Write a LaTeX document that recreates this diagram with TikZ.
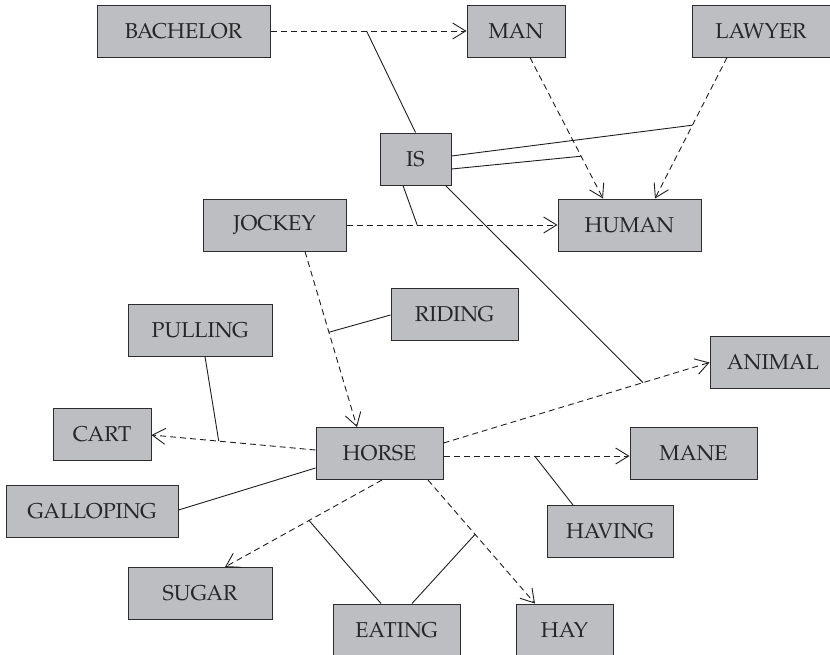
\documentclass[tikz,border=0pt]{standalone}
\usepackage{fontspec}
\setmainfont{TeX Gyre Pagella}
\usetikzlibrary{arrows.meta,calc}

\definecolor{boxfill}{RGB}{189,190,194}
\definecolor{boxline}{RGB}{45,45,45}
\definecolor{inkline}{RGB}{30,30,30}

\tikzset{
  concept/.style={draw=boxline, fill=boxfill, line width=1pt, minimum height=52pt,
    inner sep=0pt, align=center, text=black!85,
    font=\fontsize{21.5}{24}\selectfont},
  rel/.style={draw=inkline, line width=0.9pt, dash pattern=on 6pt off 4pt,
    -{Straight Barb[length=13pt,width=16pt,line width=0.9pt]}},
  link/.style={draw=inkline, line width=0.9pt}
}

\begin{document}
\begin{tikzpicture}[x=1pt,y=-1pt]
\useasboundingbox (0,0) rectangle (830,654);
\clip (0,0) rectangle (830,654);

% concept boxes
\node[concept, minimum width=173pt] (bachelor)  at (183.5,31)  {BACHELOR};
\node[concept, minimum width=98pt]  (man)       at (516,31)    {MAN};
\node[concept, minimum width=138pt] (lawyer)    at (761,31)    {LAWYER};
\node[concept, minimum width=71pt]  (is)        at (415.5,159) {IS};
\node[concept, minimum width=143pt] (human)     at (629.5,225) {HUMAN};
\node[concept, minimum width=143pt] (jockey)    at (274.5,225) {JOCKEY};
\node[concept, minimum width=127pt] (riding)    at (454.5,314) {RIDING};
\node[concept, minimum width=144pt] (pulling)   at (200,330)   {PULLING};
\node[concept, minimum width=98pt]  (cart)      at (102,434)   {CART};
\node[concept, minimum width=127pt] (horse)     at (379.5,453.5) {HORSE};
\node[concept, minimum width=126pt] (animal)    at (773,362.5) {ANIMAL};
\node[concept, minimum width=127pt] (mane)      at (693.5,453.5) {MANE};
\node[concept, minimum width=172pt] (galloping) at (92,511)    {GALLOPING};
\node[concept, minimum width=126pt] (having)    at (610,531.5) {HAVING};
\node[concept, minimum width=144pt] (sugar)     at (200,593.5) {SUGAR};
\node[concept, minimum width=127pt] (eating)    at (396.5,630) {EATING};
\node[concept, minimum width=97pt]  (hay)       at (564.5,630) {HAY};

% dashed relations, each with a point where its label line attaches
\draw[rel] (bachelor.east) -- coordinate[pos=0.49] (pbm) (man.west);
\draw[rel] ($(man.south)+(14,0)$) -- coordinate[pos=0.70] (pmh) ($(human.north)+(-26.5,0)$);
\draw[rel] ($(lawyer.south)+(-34,0)$) -- coordinate[pos=0.48] (plh) ($(human.north)+(25.5,0)$);
\draw[rel] (jockey.east) -- coordinate[pos=0.335] (pjh) (human.west);
\draw[rel] ($(jockey.south)+(30.5,0)$) -- coordinate[pos=0.46] (pjo) ($(horse.north)+(-22.5,0)$);
\draw[rel] ($(horse.west)+(0,-3.5)$) -- coordinate[pos=0.59] (phc) ($(cart.east)+(0,1)$);
\draw[rel] ($(horse.east)+(0,-10.5)$) -- coordinate[pos=0.75] (pha) (animal.west);
\draw[rel] ($(horse.east)+(0,2.5)$) -- coordinate[pos=0.49] (phm) ($(mane.west)+(0,2.5)$);
\draw[rel] ($(horse.south)+(2.5,0)$) -- coordinate[pos=0.465] (phs) ($(sugar.north)+(25,0)$);
\draw[rel] ($(horse.south)+(48.5,0)$) -- coordinate[pos=0.44] (phy) ($(hay.north)+(-29.5,0)$);

% label lines
\draw[link] (is.north) -- (pbm);
\draw[link] ($(is.east)+(0,-3)$) -- (plh);
\draw[link] ($(is.east)+(0,10)$) -- (pmh);
\draw[link] ($(is.south)+(-12.5,0)$) -- (pjh);
\draw[link] ($(is.south east)+(-6,0)$) -- (pha);
\draw[link] ($(riding.west)+(0,1)$) -- (pjo);
\draw[link] ($(pulling.south)+(5,0)$) -- (phc);
\draw[link] ($(galloping.east)+(0,-1)$) -- ($(horse.west)+(0,14.5)$);
\draw[link] ($(having.north)+(-37,0)$) -- (phm);
\draw[link] ($(eating.north)+(-15.5,0)$) -- (phs);
\draw[link] ($(eating.north)+(15.5,0)$) -- (phy);
\end{tikzpicture}
\end{document}
